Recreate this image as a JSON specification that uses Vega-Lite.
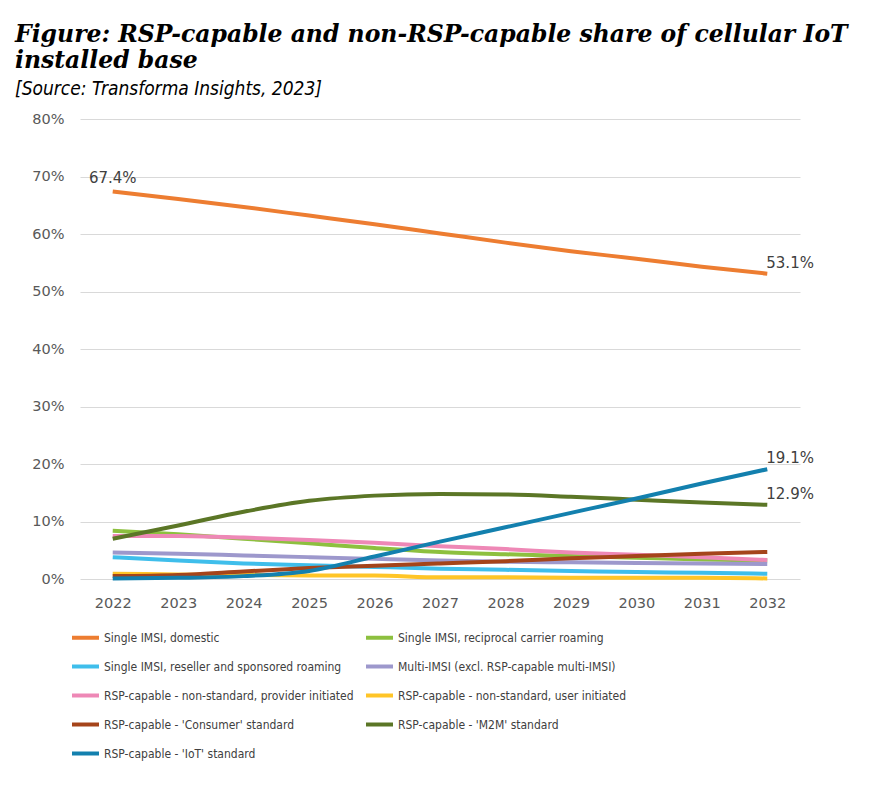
{
  "$schema": "https://vega.github.io/schema/vega-lite/v6.json",
  "width": 720,
  "height": 460,
  "autosize": {"type": "none"},
  "padding": {"left": 80, "top": 119, "right": 85, "bottom": 214},
  "background": "white",
  "title": {
    "text": ["Figure: RSP-capable and non-RSP-capable share of cellular IoT", "installed base"],
    "subtitle": "[Source: Transforma Insights, 2023]",
    "anchor": "start",
    "frame": "group",
    "dx": -65,
    "font": "DejaVu Serif",
    "fontSize": 23.5,
    "fontStyle": "italic",
    "fontWeight": "bold",
    "color": "#000000",
    "lineHeight": 26,
    "subtitleFont": "DejaVu Sans Condensed",
    "subtitleFontSize": 19,
    "subtitleFontStyle": "italic",
    "subtitleColor": "#000000",
    "subtitlePadding": 8,
    "offset": 12
  },
  "config": {
    "view": {"stroke": null},
    "font": "DejaVu Sans"
  },
  "datasets": {
    "share": [
      {"year": "2022", "series": "Single IMSI, domestic", "value": 67.4},
      {"year": "2023", "series": "Single IMSI, domestic", "value": 66.1},
      {"year": "2024", "series": "Single IMSI, domestic", "value": 64.7},
      {"year": "2025", "series": "Single IMSI, domestic", "value": 63.2},
      {"year": "2026", "series": "Single IMSI, domestic", "value": 61.7},
      {"year": "2027", "series": "Single IMSI, domestic", "value": 60.1},
      {"year": "2028", "series": "Single IMSI, domestic", "value": 58.5},
      {"year": "2029", "series": "Single IMSI, domestic", "value": 57.0},
      {"year": "2030", "series": "Single IMSI, domestic", "value": 55.7},
      {"year": "2031", "series": "Single IMSI, domestic", "value": 54.3},
      {"year": "2032", "series": "Single IMSI, domestic", "value": 53.1},

      {"year": "2022", "series": "Single IMSI, reciprocal carrier roaming", "value": 8.4},
      {"year": "2023", "series": "Single IMSI, reciprocal carrier roaming", "value": 7.8},
      {"year": "2024", "series": "Single IMSI, reciprocal carrier roaming", "value": 7.0},
      {"year": "2025", "series": "Single IMSI, reciprocal carrier roaming", "value": 6.2},
      {"year": "2026", "series": "Single IMSI, reciprocal carrier roaming", "value": 5.4},
      {"year": "2027", "series": "Single IMSI, reciprocal carrier roaming", "value": 4.7},
      {"year": "2028", "series": "Single IMSI, reciprocal carrier roaming", "value": 4.3},
      {"year": "2029", "series": "Single IMSI, reciprocal carrier roaming", "value": 4.0},
      {"year": "2030", "series": "Single IMSI, reciprocal carrier roaming", "value": 3.7},
      {"year": "2031", "series": "Single IMSI, reciprocal carrier roaming", "value": 3.4},
      {"year": "2032", "series": "Single IMSI, reciprocal carrier roaming", "value": 3.2},

      {"year": "2022", "series": "Single IMSI, reseller and sponsored roaming", "value": 3.8},
      {"year": "2023", "series": "Single IMSI, reseller and sponsored roaming", "value": 3.2},
      {"year": "2024", "series": "Single IMSI, reseller and sponsored roaming", "value": 2.7},
      {"year": "2025", "series": "Single IMSI, reseller and sponsored roaming", "value": 2.4},
      {"year": "2026", "series": "Single IMSI, reseller and sponsored roaming", "value": 2.1},
      {"year": "2027", "series": "Single IMSI, reseller and sponsored roaming", "value": 1.8},
      {"year": "2028", "series": "Single IMSI, reseller and sponsored roaming", "value": 1.6},
      {"year": "2029", "series": "Single IMSI, reseller and sponsored roaming", "value": 1.4},
      {"year": "2030", "series": "Single IMSI, reseller and sponsored roaming", "value": 1.2},
      {"year": "2031", "series": "Single IMSI, reseller and sponsored roaming", "value": 1.1},
      {"year": "2032", "series": "Single IMSI, reseller and sponsored roaming", "value": 0.9},

      {"year": "2022", "series": "Multi-IMSI (excl. RSP-capable multi-IMSI)", "value": 4.6},
      {"year": "2023", "series": "Multi-IMSI (excl. RSP-capable multi-IMSI)", "value": 4.4},
      {"year": "2024", "series": "Multi-IMSI (excl. RSP-capable multi-IMSI)", "value": 4.1},
      {"year": "2025", "series": "Multi-IMSI (excl. RSP-capable multi-IMSI)", "value": 3.8},
      {"year": "2026", "series": "Multi-IMSI (excl. RSP-capable multi-IMSI)", "value": 3.5},
      {"year": "2027", "series": "Multi-IMSI (excl. RSP-capable multi-IMSI)", "value": 3.2},
      {"year": "2028", "series": "Multi-IMSI (excl. RSP-capable multi-IMSI)", "value": 3.0},
      {"year": "2029", "series": "Multi-IMSI (excl. RSP-capable multi-IMSI)", "value": 2.9},
      {"year": "2030", "series": "Multi-IMSI (excl. RSP-capable multi-IMSI)", "value": 2.8},
      {"year": "2031", "series": "Multi-IMSI (excl. RSP-capable multi-IMSI)", "value": 2.7},
      {"year": "2032", "series": "Multi-IMSI (excl. RSP-capable multi-IMSI)", "value": 2.6},

      {"year": "2022", "series": "RSP-capable - non-standard, provider initiated", "value": 7.5},
      {"year": "2023", "series": "RSP-capable - non-standard, provider initiated", "value": 7.5},
      {"year": "2024", "series": "RSP-capable - non-standard, provider initiated", "value": 7.2},
      {"year": "2025", "series": "RSP-capable - non-standard, provider initiated", "value": 6.8},
      {"year": "2026", "series": "RSP-capable - non-standard, provider initiated", "value": 6.3},
      {"year": "2027", "series": "RSP-capable - non-standard, provider initiated", "value": 5.7},
      {"year": "2028", "series": "RSP-capable - non-standard, provider initiated", "value": 5.2},
      {"year": "2029", "series": "RSP-capable - non-standard, provider initiated", "value": 4.6},
      {"year": "2030", "series": "RSP-capable - non-standard, provider initiated", "value": 4.2},
      {"year": "2031", "series": "RSP-capable - non-standard, provider initiated", "value": 3.8},
      {"year": "2032", "series": "RSP-capable - non-standard, provider initiated", "value": 3.3},

      {"year": "2022", "series": "RSP-capable - non-standard, user initiated", "value": 0.9},
      {"year": "2023", "series": "RSP-capable - non-standard, user initiated", "value": 0.8},
      {"year": "2024", "series": "RSP-capable - non-standard, user initiated", "value": 0.7},
      {"year": "2025", "series": "RSP-capable - non-standard, user initiated", "value": 0.6},
      {"year": "2026", "series": "RSP-capable - non-standard, user initiated", "value": 0.6},
      {"year": "2027", "series": "RSP-capable - non-standard, user initiated", "value": 0.3},
      {"year": "2028", "series": "RSP-capable - non-standard, user initiated", "value": 0.3},
      {"year": "2029", "series": "RSP-capable - non-standard, user initiated", "value": 0.2},
      {"year": "2030", "series": "RSP-capable - non-standard, user initiated", "value": 0.2},
      {"year": "2031", "series": "RSP-capable - non-standard, user initiated", "value": 0.2},
      {"year": "2032", "series": "RSP-capable - non-standard, user initiated", "value": 0.1},

      {"year": "2022", "series": "RSP-capable - 'Consumer' standard", "value": 0.5},
      {"year": "2023", "series": "RSP-capable - 'Consumer' standard", "value": 0.7},
      {"year": "2024", "series": "RSP-capable - 'Consumer' standard", "value": 1.3},
      {"year": "2025", "series": "RSP-capable - 'Consumer' standard", "value": 1.9},
      {"year": "2026", "series": "RSP-capable - 'Consumer' standard", "value": 2.3},
      {"year": "2027", "series": "RSP-capable - 'Consumer' standard", "value": 2.7},
      {"year": "2028", "series": "RSP-capable - 'Consumer' standard", "value": 3.1},
      {"year": "2029", "series": "RSP-capable - 'Consumer' standard", "value": 3.6},
      {"year": "2030", "series": "RSP-capable - 'Consumer' standard", "value": 4.0},
      {"year": "2031", "series": "RSP-capable - 'Consumer' standard", "value": 4.4},
      {"year": "2032", "series": "RSP-capable - 'Consumer' standard", "value": 4.7},

      {"year": "2022", "series": "RSP-capable - 'M2M' standard", "value": 7.0},
      {"year": "2023", "series": "RSP-capable - 'M2M' standard", "value": 9.3},
      {"year": "2024", "series": "RSP-capable - 'M2M' standard", "value": 11.7},
      {"year": "2025", "series": "RSP-capable - 'M2M' standard", "value": 13.6},
      {"year": "2026", "series": "RSP-capable - 'M2M' standard", "value": 14.5},
      {"year": "2027", "series": "RSP-capable - 'M2M' standard", "value": 14.8},
      {"year": "2028", "series": "RSP-capable - 'M2M' standard", "value": 14.7},
      {"year": "2029", "series": "RSP-capable - 'M2M' standard", "value": 14.3},
      {"year": "2030", "series": "RSP-capable - 'M2M' standard", "value": 13.8},
      {"year": "2031", "series": "RSP-capable - 'M2M' standard", "value": 13.3},
      {"year": "2032", "series": "RSP-capable - 'M2M' standard", "value": 12.9},

      {"year": "2022", "series": "RSP-capable - 'IoT' standard", "value": 0.1},
      {"year": "2023", "series": "RSP-capable - 'IoT' standard", "value": 0.2},
      {"year": "2024", "series": "RSP-capable - 'IoT' standard", "value": 0.5},
      {"year": "2025", "series": "RSP-capable - 'IoT' standard", "value": 1.4},
      {"year": "2026", "series": "RSP-capable - 'IoT' standard", "value": 3.9},
      {"year": "2027", "series": "RSP-capable - 'IoT' standard", "value": 6.5},
      {"year": "2028", "series": "RSP-capable - 'IoT' standard", "value": 9.0},
      {"year": "2029", "series": "RSP-capable - 'IoT' standard", "value": 11.5},
      {"year": "2030", "series": "RSP-capable - 'IoT' standard", "value": 14.0},
      {"year": "2031", "series": "RSP-capable - 'IoT' standard", "value": 16.6},
      {"year": "2032", "series": "RSP-capable - 'IoT' standard", "value": 19.1}
    ]
  },
  "data": {"name": "share"},
  "encoding": {
    "x": {
      "field": "year",
      "type": "ordinal",
      "scale": {"type": "point", "padding": 0.5},
      "axis": {
        "title": null,
        "labelAngle": 0,
        "domain": false,
        "ticks": false,
        "labelPadding": 17,
        "labelFontSize": 14.5,
        "labelColor": "#595959",
        "labelFont": "DejaVu Sans"
      }
    },
    "y": {
      "field": "value",
      "type": "quantitative",
      "scale": {"domain": [0, 80], "nice": false},
      "axis": {
        "title": null,
        "values": [0, 10, 20, 30, 40, 50, 60, 70, 80],
        "labelExpr": "datum.value + '%'",
        "domain": false,
        "ticks": false,
        "labelPadding": 16,
        "labelFontSize": 14.5,
        "labelColor": "#595959",
        "labelFont": "DejaVu Sans",
        "gridColor": "#D9D9D9",
        "gridWidth": 1
      }
    }
  },
  "layer": [
    {
      "mark": {"type": "line", "strokeWidth": 4, "interpolate": "monotone"},
      "encoding": {
        "color": {
          "field": "series",
          "type": "nominal",
          "sort": null,
          "scale": {
            "domain": [
              "Single IMSI, domestic",
              "Single IMSI, reseller and sponsored roaming",
              "RSP-capable - non-standard, provider initiated",
              "RSP-capable - 'Consumer' standard",
              "RSP-capable - 'IoT' standard",
              "Single IMSI, reciprocal carrier roaming",
              "Multi-IMSI (excl. RSP-capable multi-IMSI)",
              "RSP-capable - non-standard, user initiated",
              "RSP-capable - 'M2M' standard"
            ],
            "range": ["#ED7D31", "#3FBEEB", "#EE88B6", "#A5441A", "#1380AE", "#8DC03F", "#9D98CC", "#FFC527", "#5B7626"]
          },
          "legend": {
            "title": null,
            "orient": "none",
            "legendX": -10,
            "legendY": 503,
            "columns": 2,
            "columnPadding": 4,
            "rowPadding": 5,
            "symbolType": "stroke",
            "symbolStrokeWidth": 4,
            "symbolSize": 729,
            "labelOffset": 3,
            "labelFontSize": 12,
            "labelFont": "DejaVu Sans Condensed",
            "labelColor": "#404040",
            "labelLimit": 400
          }
        }
      }
    },
    {
      "transform": [
        {"filter": "datum.series === 'Single IMSI, domestic' && datum.year === '2022'"},
        {"calculate": "format(datum.value, '.1f') + '%'", "as": "label"}
      ],
      "mark": {"type": "text", "dy": -13, "fontSize": 15, "color": "#404040", "font": "DejaVu Sans"},
      "encoding": {
        "text": {"field": "label", "type": "nominal"}
      }
    },
    {
      "transform": [
        {"filter": "datum.year === '2032' && (datum.series === 'Single IMSI, domestic' || datum.series === \"RSP-capable - 'IoT' standard\" || datum.series === \"RSP-capable - 'M2M' standard\")"},
        {"calculate": "format(datum.value, '.1f') + '%'", "as": "label"}
      ],
      "mark": {"type": "text", "align": "left", "dx": -1, "dy": -11, "fontSize": 15, "color": "#404040", "font": "DejaVu Sans"},
      "encoding": {
        "text": {"field": "label", "type": "nominal"}
      }
    }
  ]
}
